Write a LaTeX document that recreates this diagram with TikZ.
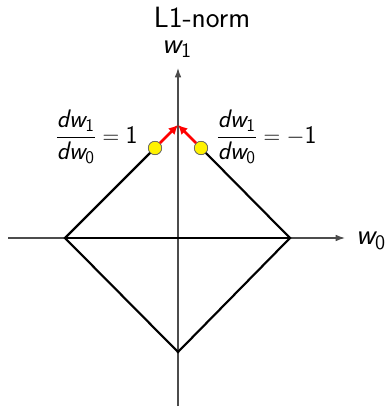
\documentclass[tikz,border=0pt]{standalone}
\usepackage{amsmath}
\usetikzlibrary{arrows.meta}
\newcommand{\vw}[1]{\text{\itshape w}_{\text{#1}}}
\newcommand{\dvw}[1]{\text{\itshape dw}_{\text{#1}}}
\tikzset{
  axis/.style={draw=black!70, line width=0.9pt, -{Latex[length=7pt,width=5pt]}},
  edge/.style={draw=black, line width=1.6pt},
  grad/.style={draw=red, line width=1.9pt, -{Latex[length=7pt,width=7pt]}},
  dot/.style={circle, fill=yellow, draw=black!60, line width=0.5pt, minimum size=10pt, inner sep=0pt},
  lab/.style={font=\fontsize{19}{23}\selectfont\sffamily, inner sep=0pt},
  axl/.style={font=\fontsize{22}{26}\selectfont\sffamily, inner sep=0pt},
  ttl/.style={font=\fontsize{22}{26}\selectfont\sffamily, inner sep=0pt},
}
\begin{document}
\begin{tikzpicture}[x=0.75pt,y=-0.75pt]
\useasboundingbox (0,0) rectangle (389,409);
\coordinate (xs) at (8,238);
\coordinate (xe) at (345,238);
\coordinate (ys) at (178,406);
\coordinate (ye) at (178,68);
\coordinate (L) at (65,238);
\coordinate (R) at (290,238);
\coordinate (B) at (178,352);
\coordinate (T) at (178,125);
\draw[axis] (xs) -- (xe);
\draw[axis] (ys) -- (ye);
\node[dot] (dl) at (155,148) {};
\node[dot] (dr) at (201,148) {};
\draw[edge] (L) -- (R);
\draw[edge, line join=miter] (dl.center) -- (L) -- (B) -- (R) -- (dr.center);
\node[dot] at (dl) {};
\node[dot] at (dr) {};
\draw[grad] (dl) -- (T);
\draw[grad] (dr) -- (T);
\node[ttl] (title) at (202,17) {L1-norm};
\node[axl] (w1) at (177,49) {$\vw{1}$};
\node[axl] (w0) at (371,241) {$\vw{0}$};
\node[lab, anchor=west] (fl) at (55,137) {$\dfrac{\dvw{1}}{\dvw{0}} = \text{1}$};
\node[lab, anchor=west] (fr) at (216,137) {$\dfrac{\dvw{1}}{\dvw{0}} = -\text{1}$};
\end{tikzpicture}
\end{document}
